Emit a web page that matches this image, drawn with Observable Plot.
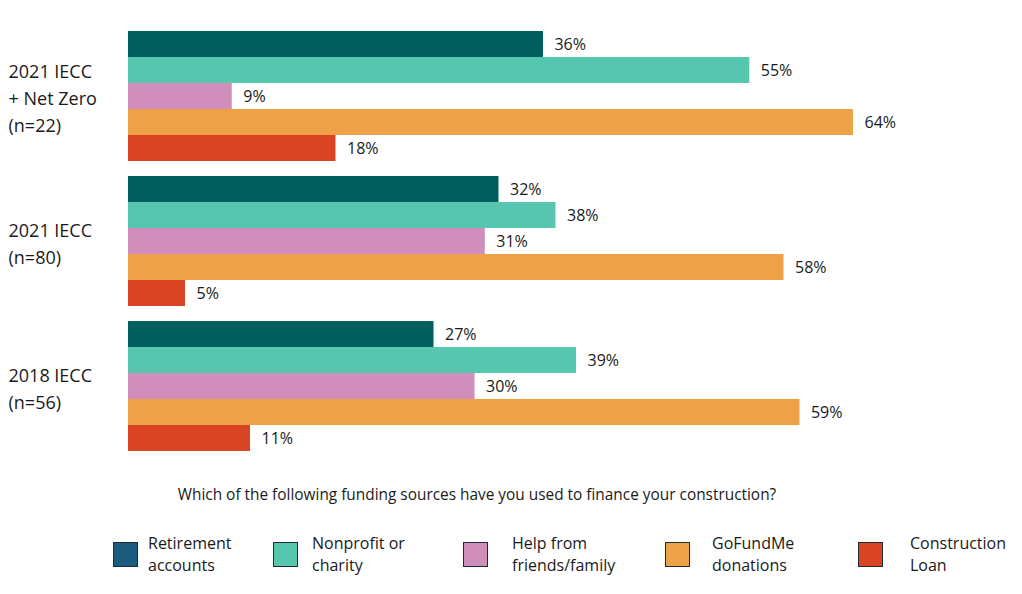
<!DOCTYPE html>
<html><head><meta charset="utf-8">
<script src="https://cdn.jsdelivr.net/npm/d3@7"></script>
<script src="https://cdn.jsdelivr.net/npm/@observablehq/plot@0.6"></script>
<style>
body{margin:0;background:#fff;font-family:"Open Sans",sans-serif;color:#1a1a1a;}
#wrap{position:relative;width:1022px;height:594px;}
#title{position:absolute;left:0;width:954px;top:484px;text-align:center;font-size:15.4px;}
#legend{position:absolute;top:532px;left:0;width:1022px;height:50px;}
.item{position:absolute;top:0;display:flex;align-items:center;}
.sw{width:23px;height:23px;border:1.5px solid #1d2b38;box-sizing:content-box;}
.lab{font-size:16px;line-height:22px;}
</style></head><body>
<div id="wrap"><div id="chart"></div><div id="title"></div><div id="legend"></div></div>
<script>
const groups = ["2021 IECC + Net Zero (n=22)", "2021 IECC (n=80)", "2018 IECC (n=56)"];
const groupLabels = ["2021 IECC\n+ Net Zero\n(n=22)", "2021 IECC\n(n=80)", "2018 IECC\n(n=56)"];
const sources = ["Retirement accounts", "Nonprofit or charity", "Help from friends/family", "GoFundMe donations", "Construction Loan"];
const legendLabels = ["Retirement\naccounts", "Nonprofit or\ncharity", "Help from\nfriends/family", "GoFundMe\ndonations", "Construction\nLoan"];
const colors = ["#00605F", "#56C6AE", "#D08FBA", "#EDA248", "#DA4324"];
const legendColors = ["#1B5C7E", "#56C6AE", "#D08FBA", "#EDA248", "#DA4324"];
const valuesNetZero = [36.4, 54.5, 9.1, 63.6, 18.2];
const values2021 = [32.5, 37.5, 31.3, 57.5, 5.0];
const values2018 = [26.8, 39.3, 30.4, 58.9, 10.7];
const labelsNetZero = ["36%", "55%", "9%", "64%", "18%"];
const labels2021 = ["32%", "38%", "31%", "58%", "5%"];
const labels2018 = ["27%", "39%", "30%", "59%", "11%"];
const question = "Which of the following funding sources have you used to finance your construction?";

const allValues = [valuesNetZero, values2021, values2018];
const allLabels = [labelsNetZero, labels2021, labels2018];
const data = [];
groups.forEach((g, gi) => sources.forEach((s, si) => data.push({group: g, source: s, value: allValues[gi][si], label: allLabels[gi][si]})));
const groupData = groups.map((g, i) => ({group: g, label: groupLabels[i]}));

const chart = Plot.plot({
  width: 1022, height: 462,
  marginLeft: 128, marginRight: 96, marginTop: 30, marginBottom: 11,
  style: {fontFamily: "'Open Sans', sans-serif", color: "#1a1a1a"},
  x: {domain: [0, 70], axis: null},
  y: {domain: sources, padding: 0, axis: null},
  fy: {domain: groups, padding: 0.105, axis: null},
  color: {domain: sources, range: colors},
  marks: [
    Plot.barX(data, {x: "value", y: "source", fy: "group", fill: "source"}),
    Plot.text(data, {x: "value", y: "source", fy: "group", text: "label", textAnchor: "start", dx: 11, fontSize: 16, fill: "#1a1a1a"}),
    Plot.text(groupData, {fy: "group", text: "label", frameAnchor: "left", textAnchor: "start", dx: -120, fontSize: 18, lineHeight: 1.5, fill: "#1a1a1a"})
  ]
});
document.getElementById("chart").appendChild(chart);
document.getElementById("title").textContent = question;

const lefts = [113, 273, 463, 665, 858];
const gaps = [10, 14, 24, 22, 27];
const leg = document.getElementById("legend");
sources.forEach((s, i) => {
  const it = document.createElement("div");
  it.className = "item";
  it.style.left = lefts[i] + "px";
  const sw = document.createElement("div");
  sw.className = "sw";
  sw.style.background = legendColors[i];
  const lab = document.createElement("div");
  lab.className = "lab";
  lab.style.marginLeft = gaps[i] + "px";
  lab.innerHTML = legendLabels[i].replace("\n", "<br>");
  it.appendChild(sw); it.appendChild(lab);
  leg.appendChild(it);
});
</script></body></html>
